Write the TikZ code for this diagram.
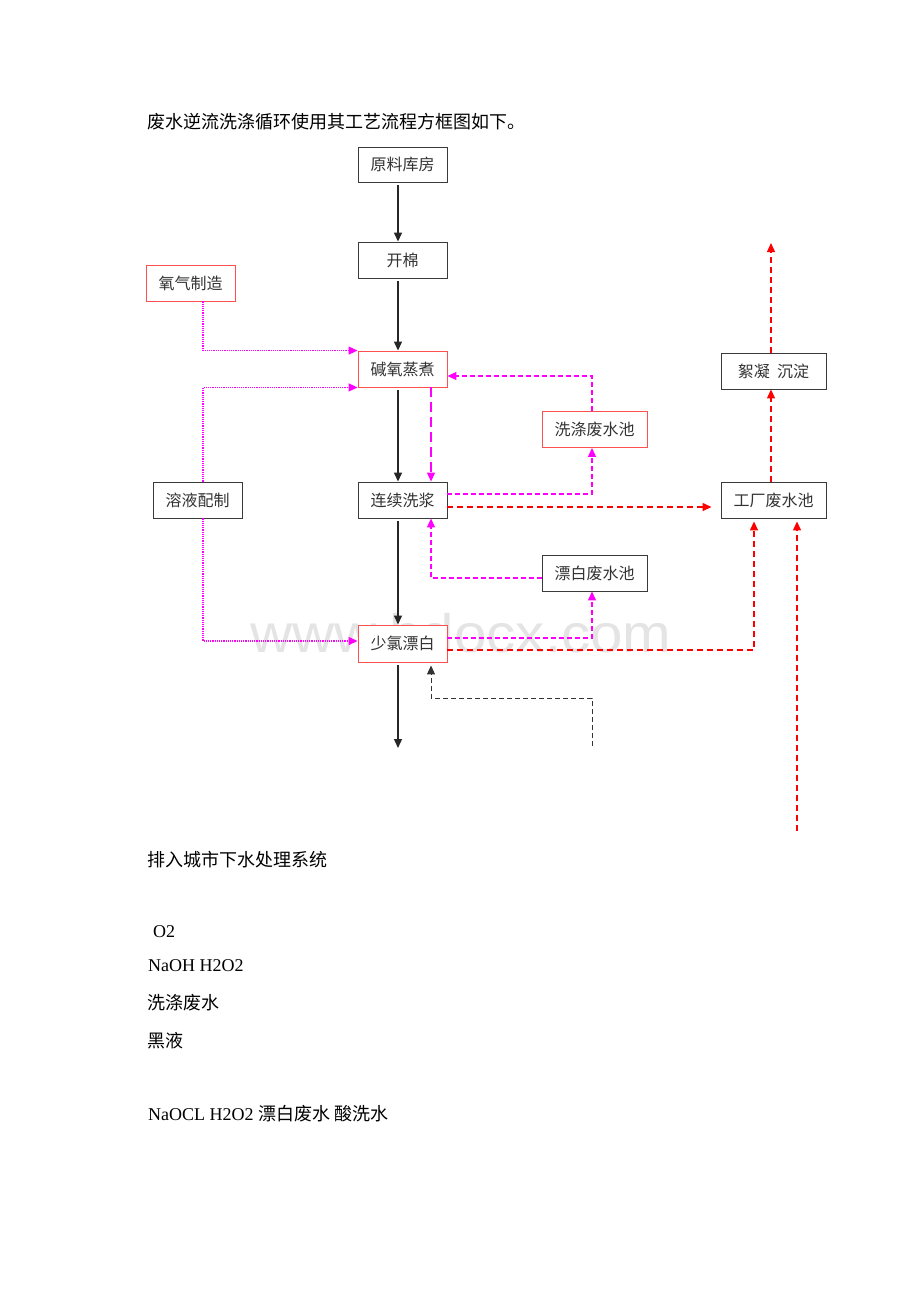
\documentclass[tikz,border=0pt]{standalone}
\usepackage{fontspec}
\setmainfont{Liberation Serif}
\newfontfamily\cjk{Noto Sans CJK SC}
\newfontfamily\wmfont{Liberation Sans}
\usetikzlibrary{arrows.meta}
\definecolor{boxgray}{HTML}{3A3A3A}
\definecolor{boxred}{HTML}{FF5050}
\definecolor{txtgray}{HTML}{333333}
\definecolor{mag}{HTML}{FF00FF}
\definecolor{wmgray}{HTML}{E4E4E4}
\begin{document}
\begin{tikzpicture}[x=1pt,y=-1pt,
  arr/.style={-{Triangle[length=9pt,width=8pt]}},
  box/.style={draw=boxgray, fill=white, line width=0.9pt, inner sep=0pt,
    minimum width=89pt, minimum height=36pt, text=txtgray,
    font=\cjk\fontsize{16}{16}\selectfont},
  wbox/.style={box, minimum width=105pt},
  redbox/.style={box, draw=boxred},
  txt/.style={anchor=west, inner sep=0pt, text=black, font=\fontsize{18}{18}\selectfont},
  kline/.style={draw=black!85, line width=1.3pt, arr, shorten <=3pt},
  kdash/.style={draw=black!80, line width=1pt, dash pattern=on 5pt off 3pt, arr},
  mdash/.style={draw=mag, line width=1.2pt, dash pattern=on 5pt off 3pt, arr},
  mlong/.style={mdash, dash pattern=on 10pt off 5pt},
  mdot/.style={draw=mag, line width=1.3pt, dash pattern=on 1.2pt off 1pt, arr},
  rdash/.style={draw=red, line width=1.4pt, dash pattern=on 6pt off 4pt, arr}
]
\useasboundingbox (0,0) rectangle (920,1302);
\fill[white] (0,0) rectangle (920,1302);

% watermark
\node[anchor=base west, inner sep=0pt, text=wmgray, xscale=1.08,
  font=\wmfont\fontsize{54}{54}\selectfont] (wm) at (250,652) {www.bdocx.com};

% title and texts
\node[txt, font=\cjk\fontsize{18}{18}\selectfont] (title) at (147,122) {废水逆流洗涤循环使用其工艺流程方框图如下。};
\node[txt, font=\cjk\fontsize{18}{18}\selectfont] (t1) at (147,860) {排入城市下水处理系统};
\node[txt] (t2) at (153,932) {O2};
\node[txt] (t3) at (148,966) {NaOH H2O2};
\node[txt, font=\cjk\fontsize{18}{18}\selectfont] (t4) at (147,1003) {洗涤废水};
\node[txt, font=\cjk\fontsize{18}{18}\selectfont] (t5) at (147,1041) {黑液};
\node[txt] (t6) at (148,1114) {NaOCL H2O2 {\cjk 漂白废水 酸洗水}};

% boxes
\node[box, minimum height=35pt] (raw) at (402.5,164.5) {原料库房};
\node[box] (kai) at (402.5,260) {开棉};
\node[redbox] (oxy) at (190.5,283) {氧气制造};
\node[redbox] (jian) at (402.5,369) {碱氧蒸煮};
\node[wbox, draw=boxred] (xidi) at (594.5,429.5) {洗涤废水池};
\node[wbox] (xu) at (773.5,371) {絮凝\ \ 沉淀};
\node[box] (rong) at (197.5,500) {溶液配制};
\node[box] (lian) at (402.5,500) {连续洗浆};
\node[wbox] (gc) at (773.5,500) {工厂废水池};
\node[wbox] (pb) at (594.5,573) {漂白废水池};
\node[redbox, minimum height=37pt] (sl) at (402.5,643.5) {少氯漂白};

% free ends
\coordinate (sout) at (398,748);
\coordinate (kin) at (592,746);
\coordinate (rin) at (797,831);
\coordinate (rout) at (771,243);

% main black flow
\draw[kline] (398,0 |- raw.south) -- (398,0 |- kai.north);
\draw[kline] (398,0 |- kai.south) -- (398,0 |- jian.north);
\draw[kline] (398,0 |- jian.south) -- (398,0 |- lian.north);
\draw[kline] (398,0 |- lian.south) -- (398,0 |- sl.north);
\draw[kline] (398,0 |- sl.south) -- (sout);

% acid wash water (black dashed)
\draw[kdash, shorten >=3pt] (kin) |- (431,698) -- (431,0 |- sl.south);

% chemical feeds (dotted)
\draw[mdot] (203,0 |- oxy.south) |- (jian.north west);
\draw[mdot] (203,0 |- rong.north) |- (jian.south west);
\draw[mdot] (203,0 |- rong.south) |- (sl.west |- 0,641);

% counter-current washing (magenta dashed)
\draw[mlong] (431,0 |- jian.south) -- (431,0 |- lian.north);
\draw[mdash] (592,0 |- xidi.north) |- (jian.east |- 0,376);
\draw[mdash] (lian.east |- 0,494) -| (592,0 |- xidi.south);
\draw[mdash] (pb.west |- 0,578) -| (431,0 |- lian.south);
\draw[mdash] (sl.east |- 0,638) -| (592,0 |- pb.south);

% waste water to plant pool (red dashed)
\draw[rdash, shorten >=9pt] (lian.east |- 0,507) -- (gc.west |- 0,507);
\draw[rdash, shorten >=3pt] (sl.east |- 0,650) -| (754,0 |- gc.south);
\draw[rdash, shorten >=3pt] (rin) -- (797,0 |- gc.south);
\draw[rdash] (771,0 |- gc.north) -- (771,0 |- xu.south);
\draw[rdash] (771,0 |- xu.north) -- (rout);
\end{tikzpicture}
\end{document}
